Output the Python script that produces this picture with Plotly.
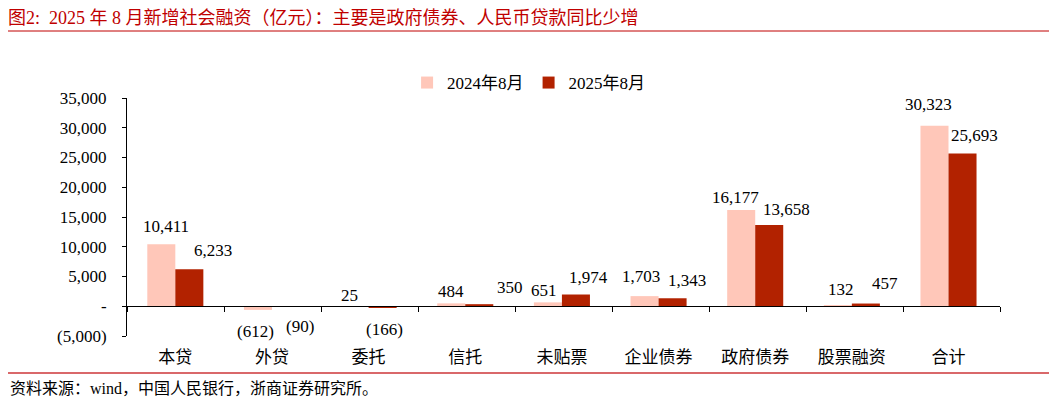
import plotly.graph_objects as go

categories = ['本贷', '外贷', '委托', '信托', '未贴票', '企业债券', '政府债券', '股票融资', '合计']
values_2024 = [10411, -612, 25, 484, 651, 1703, 16177, 132, 30323]
values_2025 = [6233, -90, -166, 350, 1974, 1343, 13658, 457, 25693]
series_names = ['2024年8月', '2025年8月']
y_tickvals = [-5000, 0, 5000, 10000, 15000, 20000, 25000, 30000, 35000]
y_ticktext = ['(5,000)', '-', '5,000', '10,000', '15,000', '20,000', '25,000', '30,000', '35,000']

# hand-placed label nudges (px) as in the original Excel chart
label_dx = [[5, -2.5, -5, 0, -3.5, -3.5, -6, 3, -6.5],
            [24, 14, 1.5, 30.5, 13, 14.5, 17.5, 19, 12]]
label_dy = [[18, -22, 11, 12, 12, 20, 13, 16, 21],
            [19, -20, -22, 17, 17, 18, 15, 20, 18]]


def fmt(v):
    # Excel style accounting labels: negatives in brackets
    return f'({abs(v):,})' if v < 0 else f'{v:,}'


serif = 'Liberation Serif, Times New Roman, Noto Sans CJK SC'
colors = ['#FFC7B9', '#B22200']
bar_half = 14  # half bar width in px, to centre labels over each bar

fig = go.Figure()
for k, (name, vals, col) in enumerate(zip(series_names, [values_2024, values_2025], colors)):
    fig.add_trace(go.Bar(x=categories, y=vals, name=name,
                         marker=dict(color=col, line=dict(width=0))))
    side = -1 if k == 0 else 1
    for i, (c, v) in enumerate(zip(categories, vals)):
        fig.add_annotation(x=c, y=v, xref='x', yref='y', text=fmt(v), showarrow=False,
                           xanchor='center', yanchor='middle',
                           xshift=side * bar_half + label_dx[k][i], yshift=label_dy[k][i],
                           font=dict(family=serif, size=17, color='black'))

# invisible trace so the zero-line axis gets drawn
fig.add_trace(go.Scatter(x=[None], y=[None], xaxis='x2', yaxis='y',
                         showlegend=False, hoverinfo='skip'))

W, H = 1049, 395
L, R, T, B = 119, 57, 90, 67
pw = W - L - R
ph = H - T - B

fig.update_layout(
    width=W, height=H,
    margin=dict(l=L, r=R, t=T, b=B),
    paper_bgcolor='white', plot_bgcolor='white',
    barmode='group', bargap=0.42, bargroupgap=0,
    font=dict(family=serif, size=17, color='black'),
    showlegend=True,
    legend=dict(orientation='h', x=0.46, xanchor='center', y=1.063, yanchor='middle',
                font=dict(size=17), itemwidth=30, tracegroupgap=0),
    title=dict(text='图2:  2025 年 8 月新增社会融资（亿元）：主要是政府债券、人民币贷款同比少增',
               x=0, xref='container', xanchor='left',
               y=0.976, yref='container', yanchor='middle',
               font=dict(family=serif, size=18, color='#C00000')),
    xaxis=dict(type='category', showline=False, ticks='', showgrid=False,
               tickfont=dict(size=17), ticklabelstandoff=9),
    yaxis=dict(range=[-5000, 35000], tickvals=y_tickvals, ticktext=y_ticktext,
               showline=True, linecolor='black', linewidth=1, ticks='outside',
               ticklen=4, tickcolor='black', showgrid=False, zeroline=False,
               tickfont=dict(size=17), ticklabelstandoff=12),
    # axis line along zero with ticks between categories
    xaxis2=dict(overlaying='x', anchor='free', position=0.125, range=[-0.5, 8.5],
                tickvals=[i + 0.5 for i in range(-1, 9)], showticklabels=False,
                showline=True, linecolor='black', linewidth=1, ticks='outside',
                ticklen=5, tickcolor='black', showgrid=False, zeroline=False),
)

# header and footer rules
fig.add_shape(type='line', xref='paper', yref='paper', x0=-L / pw, x1=(W - L) / pw,
              y0=1.2815, y1=1.2815, line=dict(color='#C00000', width=1))
fig.add_shape(type='line', xref='paper', yref='paper', x0=-L / pw, x1=(W - L) / pw,
              y0=-0.1555, y1=-0.1555, line=dict(color='#D9686A', width=2))
fig.add_annotation(text='资料来源：wind，中国人民银行，浙商证券研究所。',
                   xref='paper', yref='paper', x=-L / pw, y=-0.2185,
                   xanchor='left', yanchor='middle', showarrow=False,
                   font=dict(family=serif, size=16, color='black'))

fig.write_html('out.html')
